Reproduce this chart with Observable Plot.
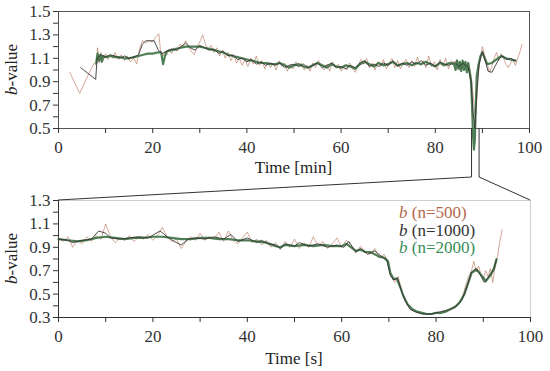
<!DOCTYPE html>
<html><head><meta charset="utf-8">
<script src="https://cdn.jsdelivr.net/npm/d3@7"></script>
<script src="https://cdn.jsdelivr.net/npm/@observablehq/plot@0.6"></script>
<style>
body{margin:0;background:#fff;}
#wrap{position:relative;width:550px;height:371px;font-family:"Liberation Serif","Times New Roman",Tinos,"Nimbus Roman","Nimbus Roman No9 L",FreeSerif,Times,serif;}
#wrap > svg, #wrap > div{position:absolute;left:0;}
#legend{font-size:17px;line-height:17.5px;}
</style></head><body><div id="wrap"></div>
<script>
// ---------- DATA ----------
// Top panel: time [min]
const topT500 = [2.4,4.5,6.2,7.6,8.0,8.3,8.6,9.0,9.5,10,10.5,11,11.5,12,12.7,13.3,14,14.6,15.2,16,16.6,17.2,17.8,18.5,19.2,20,20.6,21.3,21.7,22.2,22.6,23,23.5,24,24.6,25.2,25.8,26.4,27,27.6,28.2,28.8,29.4,30,30.6,31.2,31.8,32.4,33,33.6,34.2,34.8,35.4,36,36.6,37.2,37.8,38.4,39,39.6,40.2,40.8,41.4,42,42.6,43.2,43.8,44.4,45,45.6,46.2,46.8,47.4,48,48.6,49.2,49.8,50.4,51,51.6,52.2,52.8,53.4,54,54.6,55.2,55.8,56.4,57,57.6,58.2,58.8,59.4,60,60.6,61.2,61.8,62.4,63,63.6,64.2,64.8,65.4,66,66.6,67.2,67.8,68.4,69,69.6,70.2,70.8,71.4,72,72.6,73.2,73.8,74.4,75,75.6,76.2,76.8,77.4,78,78.6,79.2,79.8,80.4,81,81.6,82.2,82.8,83.4,84,84.6,85.2,85.8,86.4,87,87.5,87.9,88.2,88.5,88.8,89.1,89.5,90,90.5,91,91.5,92,92.5,93,93.5,94,94.5,95,95.5,96,96.5,97,97.5,98,98.4];
const topB500 = [0.98,0.80,0.95,1.06,1.04,1.19,1.06,1.15,1.08,1.14,1.09,1.13,1.10,1.15,1.09,1.13,1.08,1.12,1.07,1.10,1.05,1.18,1.25,1.23,1.25,1.24,1.28,1.31,1.15,1.12,1.16,1.13,1.18,1.14,1.19,1.16,1.22,1.20,1.25,1.20,1.16,1.13,1.19,1.24,1.30,1.22,1.17,1.21,1.15,1.19,1.12,1.17,1.10,1.15,1.08,1.13,1.06,1.10,1.04,1.09,1.03,1.10,1.05,1.12,1.04,1.08,1.01,1.07,1.02,1.06,1.00,1.08,1.03,1.06,0.99,1.05,1.01,1.07,1.03,1.06,1.00,1.04,0.99,1.06,1.02,1.08,1.03,1.00,1.05,0.99,1.07,1.02,1.05,0.99,1.03,1.00,1.06,1.01,0.98,1.04,1.09,1.05,1.10,1.02,1.06,1.00,1.07,1.03,1.09,1.01,1.06,1.10,1.02,1.08,1.01,1.06,1.09,1.02,1.08,1.03,1.11,1.04,1.08,1.02,1.12,1.03,1.07,1.00,1.09,1.03,1.10,1.01,1.08,1.04,1.09,1.00,1.07,1.03,1.06,0.98,0.85,0.70,0.60,0.75,0.95,1.10,1.20,1.12,1.06,0.98,1.03,1.10,1.15,1.08,1.14,1.10,1.05,1.02,1.06,1.09,1.04,1.10,1.16,1.22];

const topT1000 = [4.7,7.9,8.2,9,10,11,12,13,14,15,16,17,17.8,18.5,20.3,21.2,22,23,24,25,26,27,28,29,30,31,32,33,34,35,36,37,38,39,40,41,42,43,44,45,46,47,48,49,50,51,52,53,54,55,56,57,58,59,60,61,62,63,64,65,66,67,68,69,70,71,72,73,74,75,76,77,78,79,80,81,82,83,84,85,86,87,87.6,88.0,88.4,88.8,89.3,90,90.6,91.2,92,92.8,93.6,94.4,95,96,97];
const topB1000 = [1.02,0.92,1.10,1.13,1.11,1.13,1.12,1.10,1.12,1.10,1.11,1.13,1.22,1.25,1.25,1.17,1.14,1.16,1.18,1.17,1.20,1.23,1.19,1.17,1.21,1.19,1.17,1.18,1.14,1.16,1.12,1.13,1.09,1.10,1.07,1.09,1.05,1.07,1.04,1.06,1.04,1.06,1.02,1.04,1.05,1.03,1.05,1.02,1.04,1.06,1.02,1.04,1.06,1.02,1.03,1.01,1.04,1.02,1.06,1.08,1.03,1.05,1.03,1.06,1.04,1.08,1.03,1.06,1.04,1.07,1.05,1.08,1.04,1.06,1.03,1.07,1.05,1.04,1.07,1.03,1.06,1.02,0.90,0.65,0.50,0.80,1.05,1.16,1.08,0.99,0.98,1.04,1.10,1.12,1.09,1.10,1.08];

const topT2000 = [8,8.3,8.6,8.9,9.2,9.5,10,11,12,13,14,15,16,17,18,19,20,21,21.8,22.2,22.6,23,24,25,26,27,28,29,30,31,32,33,34,35,36,37,38,39,40,41,42,43,44,45,46,47,48,49,50,51,52,53,54,55,56,57,58,59,60,61,62,63,64,65,66,67,68,69,70,71,72,73,74,75,76,77,78,79,80,81,82,83,84,84.3,84.6,84.9,85.2,85.5,85.8,86.1,86.4,86.7,87,87.3,87.6,87.8,88.0,88.2,88.4,88.6,88.8,89.2,89.6,90,90.5,91,92,93,94,95,96,97];
const topB2000 = [1.06,1.14,1.08,1.13,1.07,1.12,1.11,1.12,1.11,1.11,1.10,1.10,1.11,1.12,1.13,1.14,1.14,1.15,1.15,1.05,1.12,1.16,1.17,1.18,1.19,1.20,1.20,1.20,1.20,1.19,1.18,1.17,1.16,1.15,1.13,1.12,1.11,1.10,1.09,1.08,1.07,1.06,1.06,1.05,1.05,1.06,1.04,1.02,1.04,1.05,1.03,1.02,1.04,1.06,1.04,1.02,1.05,1.03,1.02,1.04,1.03,1.01,1.05,1.07,1.05,1.03,1.06,1.04,1.05,1.07,1.04,1.05,1.06,1.04,1.06,1.05,1.07,1.05,1.03,1.06,1.04,1.06,1.05,1.00,1.08,1.01,1.07,0.99,1.08,1.00,1.07,0.98,1.06,0.98,0.90,0.70,0.45,0.32,0.40,0.70,0.95,1.05,1.12,1.15,1.10,1.05,1.06,1.09,1.12,1.10,1.09,1.08];

// Bottom panel: time [s]
const botT500 = [0,1,2,3,4,5,6,7,8,9,10,11,12,13,14,15,16,17,18,19,20,21,22,23,24,25,26,27,28,29,30,31,32,33,34,35,36,37,38,39,40,41,42,43,44,45,46,47,48,49,50,51,52,53,54,55,56,57,58,59,60,61,62,63,64,65,66,67,68,69,69.8,70.5,71.3,72,72.8,73.6,74.5,75.5,77,79,81,83,84.5,85.5,86.3,87,87.5,88,88.5,89,89.5,90,90.5,91,91.5,92,92.5,93,93.5,94];
const botB500 = [0.98,0.95,0.99,0.90,0.96,0.93,0.99,0.95,1.00,0.97,1.10,0.99,0.94,0.98,0.96,1.00,0.95,0.99,0.97,1.01,0.96,1.00,1.07,0.99,0.95,0.97,0.89,0.95,0.99,0.96,1.02,0.96,0.99,0.97,1.03,0.95,1.04,0.96,0.93,0.98,1.03,0.94,0.97,0.92,0.96,0.90,0.94,0.88,0.95,0.90,0.97,0.89,0.94,0.90,0.99,0.91,0.95,0.89,0.93,0.98,0.90,0.96,0.92,0.85,0.91,0.86,0.84,0.89,0.81,0.84,0.78,0.65,0.60,0.65,0.51,0.43,0.37,0.35,0.33,0.33,0.34,0.37,0.41,0.46,0.58,0.66,0.70,0.78,0.69,0.74,0.67,0.62,0.70,0.65,0.72,0.60,0.74,0.82,0.95,1.05];

const botT1000 = [0,2,3,5,7,8.5,10,11,13,15,17,19,21.5,23,24.5,26,27.5,29,31,33,35,36.5,38,40,42,43,44.5,46,47,48,50,51,53,55,57,59,60.5,61.5,63,64,65.5,67,68.5,69.5,70.3,71,71.8,72.7,73.5,74.5,75.5,77,79,81,83,84.5,85.5,86.5,87.5,88.5,89.3,90.2,91,92,92.8];
const botB1000 = [0.97,0.96,0.94,0.96,0.97,1.04,1.02,0.98,0.97,0.98,0.99,0.98,1.04,0.99,0.95,0.92,0.97,0.98,0.97,0.99,0.97,1.01,0.95,0.98,0.94,0.96,0.93,0.92,0.89,0.93,0.91,0.94,0.91,0.93,0.90,0.92,0.90,0.95,0.86,0.89,0.84,0.87,0.82,0.80,0.66,0.62,0.64,0.52,0.44,0.37,0.35,0.33,0.33,0.35,0.37,0.40,0.45,0.56,0.69,0.72,0.67,0.60,0.64,0.70,0.79];

const botT2000 = [0,2,4,6,8,10,12,14,16,18,20,22,24,26,28,30,32,34,36,38,40,42,44,46,47,48,50,52,54,56,58,60,61,62,63,64,65,66,67,68,69,69.8,70.3,71,71.7,72.5,73,74,75,76,77,78,79,80,81,82,83,84,85,86,87,87.5,88.5,89,90,90.5,91.5,92.3,92.8];
const botB2000 = [0.97,0.96,0.95,0.96,0.98,0.99,0.98,0.97,0.98,0.98,0.99,0.99,0.98,0.97,0.97,0.98,0.98,0.97,0.97,0.96,0.96,0.95,0.94,0.91,0.90,0.92,0.91,0.92,0.91,0.92,0.91,0.91,0.93,0.90,0.87,0.88,0.86,0.86,0.84,0.82,0.81,0.78,0.68,0.63,0.63,0.55,0.49,0.41,0.37,0.35,0.34,0.33,0.33,0.34,0.34,0.35,0.37,0.39,0.43,0.50,0.62,0.68,0.71,0.69,0.64,0.61,0.66,0.72,0.80];

// Zoom window in the top panel [min]
const zoomWindow = [87.8, 89.4];
const legendLabels = ["(n=500)", "(n=1000)", "(n=2000)"];
const seriesColors = ["#b9785e", "#383838", "#3b7042"];
const legendColors = ["#b5674c", "#333333", "#3a8c5c"];

// ---------- CHART ----------
const FONT = '"Liberation Serif","Times New Roman",Tinos,"Nimbus Roman","Nimbus Roman No9 L",FreeSerif,Times,serif';
const zip = (ts, vs) => ts.map((t, i) => ({t, b: vs[i]}));
const styleBase = {fontFamily: FONT, fontSize: "17px", background: "transparent", overflow: "visible", color: "#333"};
const oddTenth = d => Math.round(d * 10) % 2 === 1;

function lines(s500, s1000, s2000) {
  return [
    Plot.line(s500, {x: "t", y: "b", stroke: seriesColors[0], strokeWidth: 0.8, strokeOpacity: 0.8}),
    Plot.line(s2000, {x: "t", y: "b", stroke: seriesColors[2], strokeWidth: 2.2, strokeOpacity: 0.9}),
    Plot.line(s1000, {x: "t", y: "b", stroke: seriesColors[1], strokeWidth: 0.9})
  ];
}

const topChart = Plot.plot({
  width: 550, height: 180, marginTop: 11, marginBottom: 52, marginLeft: 58, marginRight: 21,
  style: styleBase,
  x: {domain: [0, 100]}, y: {domain: [0.5, 1.5]},
  marks: [
    Plot.frame({stroke: "#555"}),
    ...lines(zip(topT500, topB500), zip(topT1000, topB1000), zip(topT2000, topB2000)),
    Plot.axisX({ticks: d3.range(0, 101, 10), tickSize: 5, tickPadding: 7, label: null,
      tickFormat: d => d % 20 === 0 ? d : ""}),
    Plot.axisY({ticks: d3.range(5, 16).map(d => d / 10), tickSize: 5, tickPadding: 3, label: null,
      tickFormat: d => oddTenth(d) ? d3.format(".1f")(d) : ""})
  ]
});

const botChart = Plot.plot({
  width: 550, height: 191, marginTop: 20, marginBottom: 54, marginLeft: 58, marginRight: 20,
  style: styleBase,
  x: {domain: [0, 100]}, y: {domain: [0.3, 1.3]},
  marks: [
    Plot.frame({stroke: "#cfcfcf"}),
    Plot.ruleX([0], {stroke: "#333"}),
    Plot.ruleY([0.3], {stroke: "#333"}),
    ...lines(zip(botT500, botB500), zip(botT1000, botB1000), zip(botT2000, botB2000)),
    Plot.axisX({ticks: d3.range(0, 101, 10), tickSize: 5, tickPadding: 7, label: null,
      tickFormat: d => d % 20 === 0 ? d : ""}),
    Plot.axisY({ticks: d3.range(3, 14).map(d => d / 10), tickSize: 5, tickPadding: 3, label: null,
      tickFormat: d => oddTenth(d) ? d3.format(".1f")(d) : ""})
  ]
});

const wrap = document.getElementById("wrap");
const BOT_TOP = 180;
topChart.style.top = "0px";
botChart.style.top = BOT_TOP + "px";
wrap.appendChild(topChart);
wrap.appendChild(botChart);

// overlay: connectors, axis titles
const tx = topChart.scale("x"), ty = topChart.scale("y");
const bx = botChart.scale("x"), by = botChart.scale("y");
const topAxisY = ty.apply(0.5);
const botTopY = BOT_TOP + by.apply(1.3);
const botLeft = bx.apply(0), botRight = bx.apply(100);
const kneeY = botTopY - 23;

const ov = d3.create("svg").attr("width", 550).attr("height", 371)
  .style("top", "0px").style("pointer-events", "none")
  .style("font-family", FONT).style("font-size", "17px");

const x0 = tx.apply(zoomWindow[0]), x1 = tx.apply(zoomWindow[1]);
ov.append("path").attr("fill", "none").attr("stroke", "#333").attr("stroke-width", 1)
  .attr("d", `M${x0},${topAxisY}V${kneeY}L${botLeft},${botTopY}M${x1},${topAxisY}V${kneeY}L${botRight},${botTopY}`);

const topMid = (tx.apply(0) + tx.apply(100)) / 2;
ov.append("text").attr("x", topMid).attr("y", 173).attr("text-anchor", "middle").attr("fill", "#222").text("Time [min]");
ov.append("text").attr("x", (botLeft + botRight) / 2).attr("y", 364).attr("text-anchor", "middle").attr("fill", "#222").text("Time [s]");

function yTitle(cy) {
  const t = ov.append("text").attr("transform", `translate(17,${cy}) rotate(-90)`).attr("text-anchor", "middle").attr("fill", "#222");
  t.append("tspan").attr("font-style", "italic").text("b");
  t.append("tspan").text("-value");
}
yTitle((ty.apply(0.5) + ty.apply(1.5)) / 2);
yTitle(BOT_TOP + (by.apply(0.3) + by.apply(1.3)) / 2);

wrap.appendChild(ov.node());

// legend
const leg = document.createElement("div");
leg.id = "legend";
leg.style.left = "399px";
leg.style.top = (BOT_TOP + 24) + "px";
legendLabels.forEach((lab, i) => {
  const row = document.createElement("div");
  row.style.color = legendColors[i];
  row.innerHTML = `<i>b</i> ${lab}`;
  leg.appendChild(row);
});
wrap.appendChild(leg);
</script></body></html>
